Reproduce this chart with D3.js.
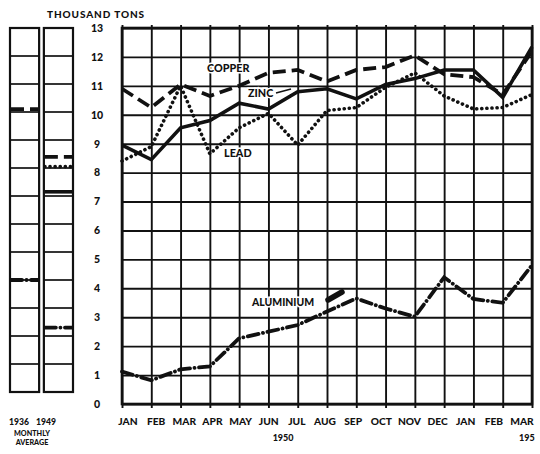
<!DOCTYPE html>
<html><head><meta charset="utf-8">
<script src="https://cdn.jsdelivr.net/npm/d3@7"></script>
<style>
body{margin:0;background:#fff;}
text{font-family:Lato,"DejaVu Sans",sans-serif;font-weight:900;fill:#111;}
</style></head>
<body><svg id="c" width="540" height="454"></svg>
<script>
// ---- data ----
const months = ["JAN","FEB","MAR","APR","MAY","JUN","JUL","AUG","SEP","OCT","NOV","DEC","JAN","FEB","MAR"];
const yearLabels = ["1950","195"];
const yTicks = [0,1,2,3,4,5,6,7,8,9,10,11,12,13];
const copper    = [10.9,10.25,11.05,10.65,11.0,11.45,11.55,11.15,11.55,11.65,12.05,11.4,11.3,10.7,12.2];
const zinc      = [8.95,8.45,9.55,9.8,10.4,10.2,10.8,10.9,10.55,11.05,11.25,11.55,11.55,10.6,12.35];
const lead      = [8.4,8.9,11.0,8.65,9.55,10.05,8.95,10.15,10.25,10.95,11.45,10.65,10.2,10.25,10.7];
const aluminium = [1.12,0.82,1.2,1.3,2.27,2.5,2.73,3.2,3.65,3.3,3.02,4.38,3.63,3.5,4.8];
const avgYears      = ["1936","1949"];
const copperAvg     = [10.1, 8.4];
const leadAvg       = [null, 8.05];
const zincAvg       = [null, 7.15];
const aluminiumAvg  = [4.0, 2.3];

// ---- layout ----
const svg = d3.select("#c");
const x = d3.scaleLinear().domain([0, months.length-1]).range([122, 532]);
// hand-lettered month labels drift slightly left of the grid
const xl = d3.scaleLinear().domain([0, months.length-1]).range([128, 522]);
const y = d3.scaleLinear().domain([0, 13]).range([404, 28]);
const yp = d3.scaleLinear().domain([0, 13]).range([392, 28]);
const panels = d3.scaleBand().domain(avgYears).range([10, 73]).paddingInner(0.14);

const styles = {
  copper:   {dash:"13,6", w:3.8, cap:"butt"},
  zinc:     {dash:null, w:3.6, cap:"butt"},
  lead:     {dash:"0.1,5", w:3.6, cap:"round"},
  aluminium:{dash:"11,4.5,0.1,4.5", w:3.8, cap:"round"}
};

// grid main
const g = svg.append("g");
g.append("g").attr("transform","translate(0,404)")
 .call(d3.axisBottom(x).tickValues(d3.range(months.length)).tickSize(-(404-28)-3).tickSizeOuter(0).tickFormat(""))
 .call(a=>{a.select(".domain").remove(); a.selectAll("line").attr("stroke","#111").attr("stroke-width",1.9).attr("y1",4);});
g.append("g").attr("transform","translate(122,0)")
 .call(d3.axisLeft(y).tickValues(yTicks).tickSize(-(532-122)).tickSizeOuter(0).tickPadding(18))
 .call(a=>{a.select(".domain").remove(); a.selectAll("line").attr("stroke","#111").attr("stroke-width",1.9);
   a.selectAll("text").attr("text-anchor","middle").attr("x",-25).attr("font-size",10.5).attr("font-family","Lato").attr("font-weight",900).attr("fill","#111");});
g.append("rect").attr("x",122).attr("y",28).attr("width",410).attr("height",376).attr("fill","none").attr("stroke","#111").attr("stroke-width",2.6);

// month labels
svg.append("g").selectAll("text").data(months).join("text")
  .attr("x",(d,i)=>xl(i)).attr("y",425).attr("text-anchor","middle").attr("font-size",10.2).text(d=>d);
svg.append("text").attr("x",x(5.5)).attr("y",441).attr("text-anchor","middle").attr("font-size",9).text(yearLabels[0]);
svg.append("text").attr("x",519).attr("y",441).attr("text-anchor","start").attr("font-size",9).text(yearLabels[1]);

svg.append("text").attr("x",47).attr("y",18).attr("font-size",10).attr("letter-spacing",0.9).text("THOUSAND TONS");

// side panels
avgYears.forEach((yr,k)=>{
  const x0 = panels(yr), bw = panels.bandwidth();
  const pg = svg.append("g");
  pg.selectAll("line").data(yTicks).join("line")
    .attr("x1",x0).attr("x2",x0+bw).attr("y1",d=>yp(d)).attr("y2",d=>yp(d)).attr("stroke","#111").attr("stroke-width",1.7);
  pg.append("rect").attr("x",x0).attr("y",yp(13)).attr("width",bw).attr("height",yp(0)-yp(13))
    .attr("fill","none").attr("stroke","#111").attr("stroke-width",2.2);
  const avgs = {copper:copperAvg, lead:leadAvg, zinc:zincAvg, aluminium:aluminiumAvg};
  Object.keys(avgs).forEach(name=>{
    const v = avgs[name][k]; if (v==null) return;
    const s = styles[name];
    svg.append("line").attr("x1",x0+1).attr("x2",x0+bw-1).attr("y1",yp(v)).attr("y2",yp(v))
      .attr("stroke","#111").attr("stroke-width",s.w).attr("stroke-dasharray",s.dash).attr("stroke-linecap",s.cap);
  });
  svg.append("text").attr("x", k===0?19:46).attr("y",425).attr("text-anchor","middle").attr("font-size",8.6).text(yr);
});
svg.append("text").attr("x",32).attr("y",436).attr("text-anchor","middle").attr("font-size",7.2).text("MONTHLY");
svg.append("text").attr("x",32).attr("y",445).attr("text-anchor","middle").attr("font-size",7.2).text("AVERAGE");

// series
const line = d3.line().x((d,i)=>x(i)).y(d=>y(d));
const series = [["copper",copper],["zinc",zinc],["lead",lead],["aluminium",aluminium]];
series.forEach(([name,vals])=>{
  const s = styles[name];
  svg.append("path").datum(vals).attr("d",line).attr("fill","none").attr("stroke","#111")
    .attr("stroke-width",s.w).attr("stroke-dasharray",s.dash).attr("stroke-linecap",s.cap).attr("stroke-linejoin","miter");
});

// series labels (white halo)
const lab = (t,xx,yy,fs)=>svg.append("text").attr("x",xx).attr("y",yy).attr("font-size",fs)
   .attr("paint-order","stroke").attr("stroke","#fff").attr("stroke-width",3).text(t);
lab("COPPER",207,72,10.8);
lab("ZINC",248,97,10.8);
lab("LEAD",224,157,10.8);
lab("ALUMINIUM",252,306,10.4);
svg.append("line").attr("x1",276).attr("y1",93).attr("x2",291).attr("y2",89).attr("stroke","#111").attr("stroke-width",1.6);
svg.append("line").attr("x1",328).attr("y1",300).attr("x2",342).attr("y2",292).attr("stroke","#111").attr("stroke-width",5.5).attr("stroke-linecap","round");
</script></body></html>
